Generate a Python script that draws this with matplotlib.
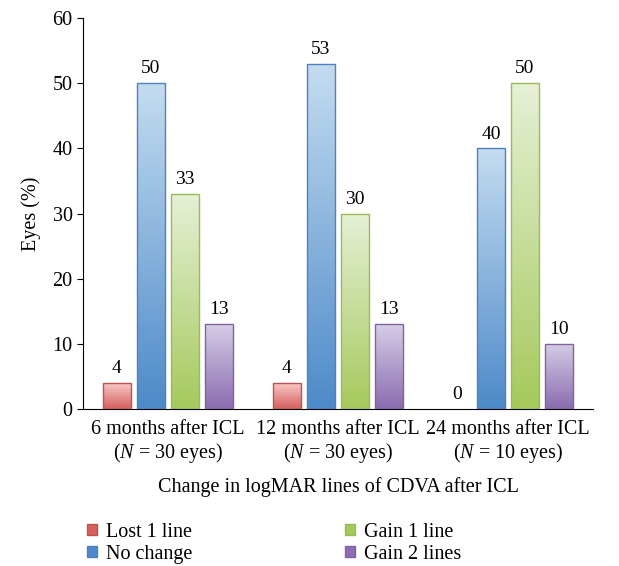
import numpy as np
import matplotlib
matplotlib.use("Agg")
import matplotlib.pyplot as plt
from matplotlib.colors import LinearSegmentedColormap
from matplotlib.patches import Patch

plt.rcParams["font.family"] = ["Liberation Serif", "DejaVu Serif"]
plt.rcParams["mathtext.fontset"] = "custom"
plt.rcParams["mathtext.rm"] = "Liberation Serif"
plt.rcParams["mathtext.it"] = "Liberation Serif:italic"

groups = ["6 months after ICL\n($\\it{N}$ = 30 eyes)",
          "12 months after ICL\n($\\it{N}$ = 30 eyes)",
          "24 months after ICL\n($\\it{N}$ = 10 eyes)"]
series = ["Lost 1 line", "No change", "Gain 1 line", "Gain 2 lines"]
lost_1 = [4, 4, 0]
no_change = [50, 53, 40]
gain_1 = [33, 30, 50]
gain_2 = [13, 13, 10]

# (top colour, bottom colour, edge colour) for each series
styles = [("#f8cccc", "#d6605c", "#c0504d"),
          ("#c4dcf0", "#4d8ac9", "#4f81bd"),
          ("#e6f0d6", "#a5c95c", "#9bbb59"),
          ("#d6cde6", "#8a6cb0", "#8064a2")]

fig = plt.figure(figsize=(6.19, 5.66), dpi=100)
ax = fig.add_axes([0.134, 0.2774, 0.824, 0.6906])

x = np.arange(len(groups))
width = 0.165
offsets = [-0.3, -0.1, 0.1, 0.3]
grad = np.linspace(0, 1, 256).reshape(-1, 1)

for vals, off, (top, bottom, edge) in zip([lost_1, no_change, gain_1, gain_2], offsets, styles):
    cmap = LinearSegmentedColormap.from_list("g", [bottom, top])
    bars = ax.bar(x + off, vals, width, facecolor="none", edgecolor=edge, linewidth=1.0, zorder=3)
    for b, v in zip(bars, vals):
        if v > 0:
            x0, y0 = b.get_x(), b.get_y()
            img = ax.imshow(grad, cmap=cmap, origin="lower", aspect="auto",
                            extent=(x0, x0 + b.get_width(), y0, y0 + b.get_height()), zorder=2)
            img.set_clip_path(b)
        else:
            b.set_visible(False)
        ax.text(b.get_x() + b.get_width() / 2, v + 0.9, f"{v}", ha="center", va="bottom", fontsize=14)

ax.set_xlim(-0.5, 2.5)
ax.set_ylim(0, 60)
ax.set_yticks(range(0, 61, 10))
ax.set_xticks(x)
ax.set_xticklabels(groups, fontsize=14.5, linespacing=1.1)
ax.tick_params(axis="x", length=0, pad=8)
ax.tick_params(axis="y", labelsize=14.5, length=4, direction="out")
ax.spines["top"].set_visible(False)
ax.spines["right"].set_visible(False)
ax.set_ylabel("Eyes (%)", fontsize=14.5, labelpad=8)
ax.set_xlabel("Change in logMAR lines of CDVA after ICL", fontsize=14.5, labelpad=9)

handles = [Patch(facecolor=s[1], edgecolor=s[2], label=n) for n, s in zip(series, styles)]
fig.legend(handles=handles, ncol=2, loc="lower left", bbox_to_anchor=(0.14, 0.004),
           frameon=False, fontsize=14.5, handlelength=0.5, handleheight=0.5,
           handletextpad=0.45, columnspacing=7.6, labelspacing=0.15,
           borderpad=0, borderaxespad=0)

fig.savefig("out.png", dpi=100)
